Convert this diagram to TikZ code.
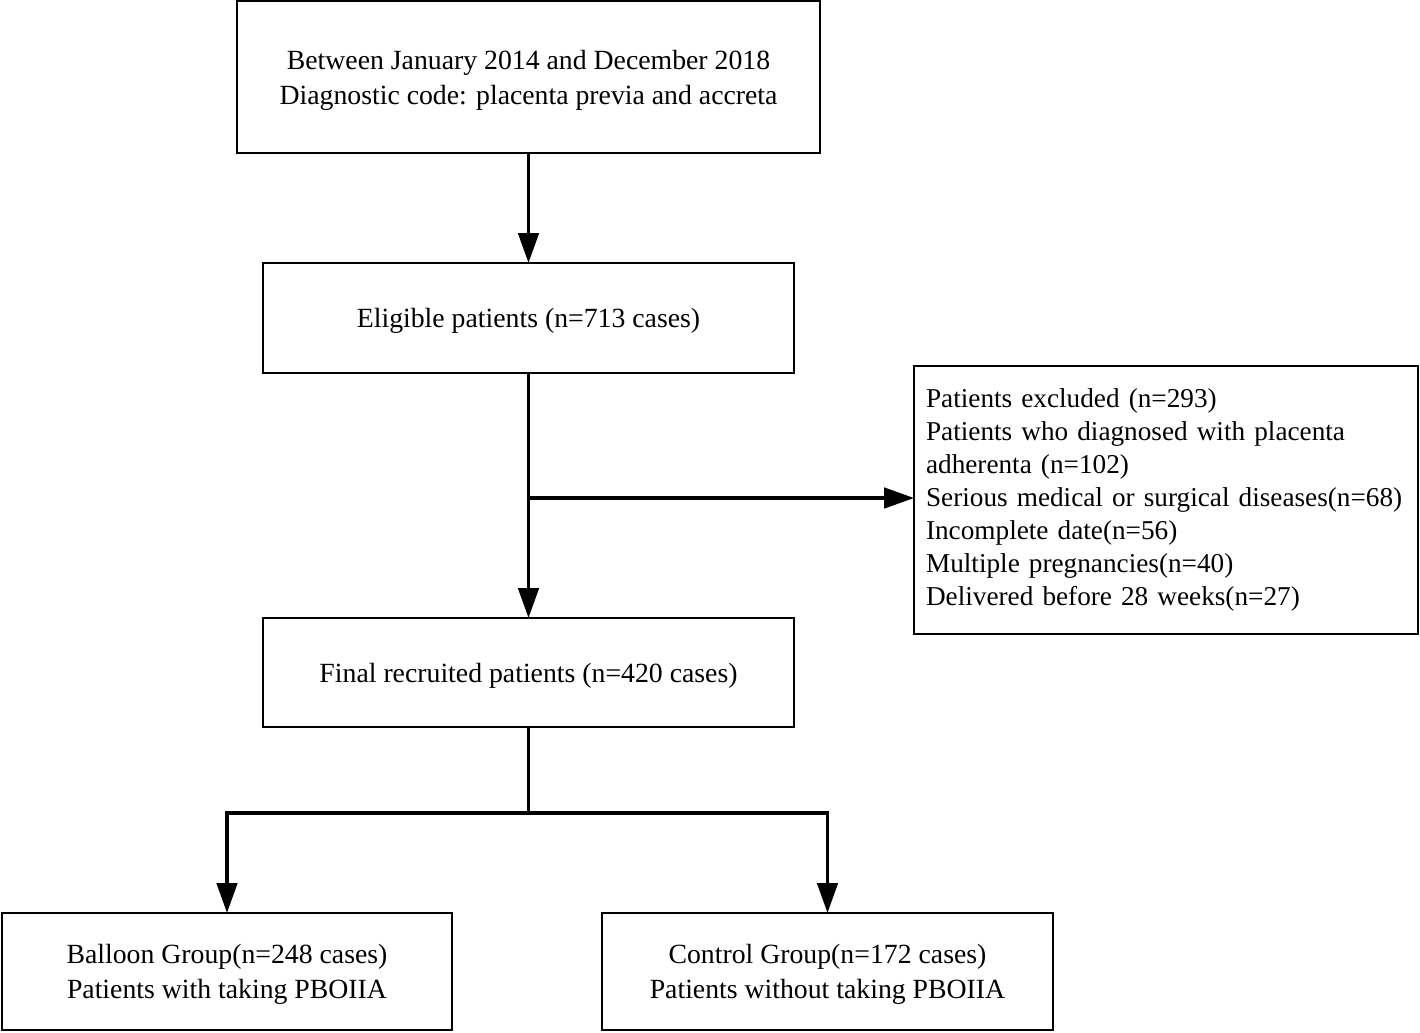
\documentclass[tikz,border=0pt]{standalone}
\usepackage{fontspec}
\setmainfont{Liberation Serif}
\usetikzlibrary{arrows.meta}
\begin{document}
\begin{tikzpicture}[x=0.02cm,y=-0.02cm,
  box/.style={draw=black, line width=1.5pt, fill=white, align=center, outer sep=0pt, inner sep=0pt,
    text depth=0pt, font=\fontsize{15.8}{19.8}\selectfont},
  conn/.style={line width=2.2pt, draw=black},
  arr/.style={conn, -{Triangle[length=17pt,width=11.5pt]}}]
\useasboundingbox (0,0) rectangle (1420,1032);
\node[box, minimum width=11.66cm, minimum height=3.04cm] (b1) at (528.5,77)
  {Between January 2014 and December 2018\\Diagnostic code: placenta previa and accreta};
\node[box, minimum width=10.62cm, minimum height=2.2cm] (b2) at (528.5,318)
  {Eligible patients (n=713 cases)};
\node[box, text depth={}, minimum width=10.08cm, minimum height=5.36cm, align=left, text width=9.6cm,
  font=\fontsize{15.5}{18.8}\selectfont] (b3) at (1166,500)
  {Patients excluded (n=293)\\Patients who diagnosed with placenta\\adherenta (n=102)\\Serious medical or surgical diseases(n=68)\\Incomplete date(n=56)\\Multiple pregnancies(n=40)\\Delivered before 28 weeks(n=27)};
\node[box, minimum width=10.62cm, minimum height=2.18cm] (b4) at (528.5,672.5)
  {Final recruited patients (n=420 cases)};
\node[box, minimum width=9.0cm, minimum height=2.34cm] (b5) at (227,971.5)
  {Balloon Group(n=248 cases)\\Patients with taking PBOIIA};
\node[box, minimum width=9.02cm, minimum height=2.34cm] (b6) at (827.5,971.5)
  {Control Group(n=172 cases)\\Patients without taking PBOIIA};
\coordinate (br) at (528.5,498);
\coordinate (split) at (528.5,813);
\draw[arr] (b1.south) -- (b2.north);
\draw[arr] (b2.south) -- (b4.north);
\draw[arr] (br) -- (br -| b3.west);
\draw[conn] (b4.south) -- (split);
\draw[arr] (split) -| (b5.north);
\draw[arr] (split) -| (b6.north);
\end{tikzpicture}
\end{document}
